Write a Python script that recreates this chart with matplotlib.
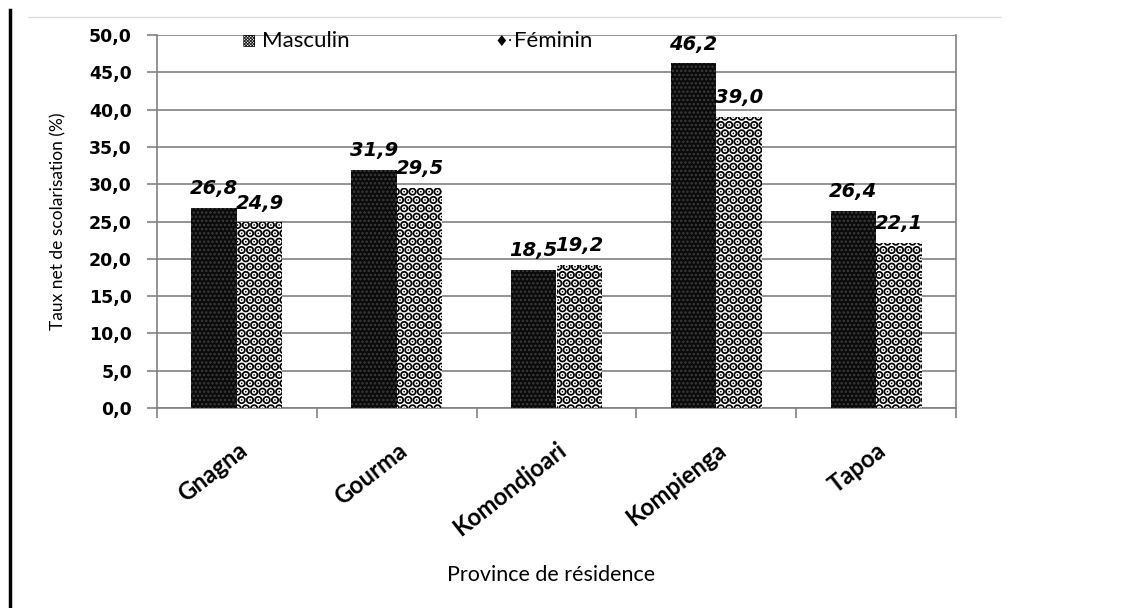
import matplotlib
matplotlib.use("Agg")
import matplotlib.pyplot as plt
import numpy as np
from matplotlib.lines import Line2D

provinces = ["Gnagna", "Gourma", "Komondjoari", "Kompienga", "Tapoa"]
masculin = [26.8, 31.9, 18.5, 46.2, 26.4]
feminin = [24.9, 29.5, 19.2, 39.0, 22.1]
yticks = [0, 5, 10, 15, 20, 25, 30, 35, 40, 45, 50]

plt.rcParams['font.family'] = ['Lato', 'DejaVu Sans']

fig = plt.figure(figsize=(11.23, 6.08), dpi=100)
L, R, T, B = 157, 956, 35, 408
ax = fig.add_axes([L/1123, 1-B/608, (R-L)/1123, (B-T)/608])

x = np.arange(len(provinces))
w = 0.285
plt.rcParams['hatch.linewidth'] = 1.2
bm = ax.bar(x - w/2, masculin, w, facecolor='#0a0a0a', edgecolor='#3c3c3c',
            hatch='....', linewidth=0, zorder=3)
plt.rcParams['hatch.linewidth'] = 4.6
bf = ax.bar(x + w/2, feminin, w, facecolor='white', edgecolor='black',
            hatch='..', linewidth=0, zorder=3)

def fmt(v):
    return f"{v:.1f}".replace('.', ',')

for xi, v in zip(x - w/2, masculin):
    ax.annotate(fmt(v), (xi, v), xytext=(0, 7), textcoords='offset points',
                ha='center', va='bottom', fontsize=14, fontweight='bold',
                fontstyle='italic', family='DejaVu Sans', zorder=4)
for xi, v in zip(x + w/2, feminin):
    ax.annotate(fmt(v), (xi, v), xytext=(0, 7), textcoords='offset points',
                ha='center', va='bottom', fontsize=14, fontweight='bold',
                fontstyle='italic', family='DejaVu Sans', zorder=4)

ax.set_xlim(-0.5, len(provinces) - 0.5)
ax.set_ylim(0, 50)
ax.set_yticks(yticks)
ax.set_yticklabels([fmt(v) for v in yticks], fontsize=12.5, fontweight='bold',
                   family='DejaVu Sans')
ax.set_xticks(x)
ax.set_xticklabels(provinces, rotation=38, ha='right', va='top',
                   rotation_mode='anchor', fontsize=17, fontweight='bold')
ax.tick_params(axis='x', length=0, pad=22)
ax.set_xticks(np.arange(len(provinces) + 1) - 0.5, minor=True)
ax.tick_params(axis='x', which='minor', length=7, color='#808080', direction='out',
               width=1.2)
ax.tick_params(axis='y', length=7, color='#808080', direction='out', pad=11,
               width=1.2)

ax.grid(axis='y', color='#808080', linewidth=1.2, zorder=0)
for s in ['left', 'right', 'bottom']:
    ax.spines[s].set_color('#808080')
    ax.spines[s].set_linewidth(1.2)
ax.spines['top'].set_visible(False)

ax.set_ylabel("Taux net de scolarisation (%)", fontsize=12.5)
ax.yaxis.set_label_coords((66 - L)/(R - L), 0.5)
ax.set_xlabel("Province de résidence", fontsize=15.5)
ax.xaxis.set_label_coords((551 - L)/(R - L), -(565 - B)/(B - T))

# legend entries placed on the top gridline
fig.text(242/1123, 1-41/608, "\u25A9", fontsize=11, va='center', ha='left',
         family='DejaVu Sans', fontweight='bold')
fig.text(262/1123, 1-41/608, "Masculin", fontsize=16, va='center', ha='left')
fig.text(494/1123, 1-41/608, "\u2666\u00b7", fontsize=11, va='center', ha='left',
         family='DejaVu Sans')
fig.text(514/1123, 1-41/608, "F\u00e9minin", fontsize=16, va='center', ha='left')

# page decorations
fig.add_artist(Line2D([10/1123, 10/1123], [0, 1-10/608], color='black', linewidth=2.5))
fig.add_artist(Line2D([28/1123, 1000/1123], [1-17/608, 1-17/608], color='#dddddd', linewidth=1))

fig.savefig("out.png", dpi=100)
